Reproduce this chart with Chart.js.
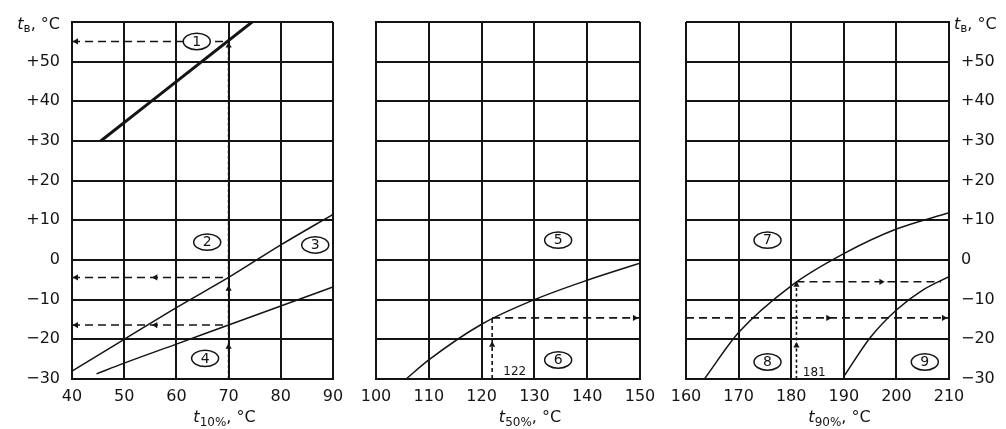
<!DOCTYPE html>
<html><head><meta charset="utf-8">
<script src="https://cdn.jsdelivr.net/npm/chart.js@4.4.1/dist/chart.umd.min.js"></script>
<style>
html,body{margin:0;padding:0;background:#fff;}
#wrap{position:relative;width:1006px;height:429px;overflow:hidden;background:#fff;}
canvas{position:absolute;top:0;}
</style></head><body>
<div id="wrap">
<canvas id="c1" width="345" height="429" style="left:0px"></canvas>
<canvas id="c2" width="320" height="429" style="left:345px"></canvas>
<canvas id="c3" width="341" height="429" style="left:665px"></canvas>
</div>
<script>
// ---------- data ----------
const tbTicks  = [-30,-20,-10,0,10,20,30,40,50,60];
const t10Ticks = [40,50,60,70,80,90];
const t50Ticks = [100,110,120,130,140,150];
const t90Ticks = [160,170,180,190,200,210];

// panel 1 (t10%)
const c1X = [45.5,74.5],                 c1Y = [30,60];
const c3X = [40,50,60,70,80,90],         c3Y = [-28,-20,-12,-4.4,3.8,11.5];
const c4X = [44.7,50,60,70,80,90],       c4Y = [-28.7,-26,-21.2,-16.4,-11.6,-6.8];
const g1aX = [40,70], g1aY = [55.1,55.1];
const g1bX = [40,70], g1bY = [-4.4,-4.4];
const g1cX = [40,70], g1cY = [-16.4,-16.4];
const g1vX = [70,70], g1vY = [-30,55.1];
const a1LeftX = [40.8,40.8,56,40.8,56], a1LeftY = [55.1,-4.4,-4.4,-16.4,-16.4];
const a1UpX = [70,70,70], a1UpY = [54,-7.3,-21.9];
const lab1Text = ['1','2','3','4'], lab1X = [63.9,65.9,86.6,65.5], lab1Y = [55.1,4.5,3.8,-24.8];

// panel 2 (t50%)
const c5X = [105.7,110,120,130,140,150], c5Y = [-30,-25.2,-16.2,-10,-5.1,-0.8];
const g2hX = [122,150], g2hY = [-14.6,-14.6];
const g2vX = [122,122], g2vY = [-30,-14.6];
const a2RightX = [149], a2RightY = [-14.6];
const a2UpX = [122], a2UpY = [-21.4];
const lab2Text = ['5','6'], lab2X = [134.5,134.5], lab2Y = [5,-25.2];
const note2Text = ['122'], note2X = [124.1], note2Y = [-28.2];

// panel 3 (t90%)
const c7X = [163.5,170,180,190,200,210], c7Y = [-30,-18.3,-6.5,1.6,7.8,11.9];
const c9X = [190.2,195,200,205,210],     c9Y = [-29,-19.6,-12.6,-7.6,-4.2];
const g3aX = [181,208.5], g3aY = [-5.5,-5.5];
const g3bX = [160,210],   g3bY = [-14.6,-14.6];
const g3vX = [181,181],   g3vY = [-30,-5.5];
const a3RightX = [197.1,187,209], a3RightY = [-5.5,-14.6,-14.6];
const a3UpX = [181,181], a3UpY = [-6.3,-21.6];
const lab3Text = ['7','8','9'], lab3X = [175.5,175.5,205.4], lab3Y = [5,-25.7,-25.7];
const note3Text = ['181'], note3X = [182.2], note3Y = [-28.4];

// ---------- styling helpers ----------
const FONT = "'DejaVu Sans', 'Liberation Sans', sans-serif";
const INK = '#141414';

function pts(xs, ys){ return xs.map((x,i)=>({x:x, y:ys[i]})); }
function curve(xs, ys, w){
  return {data:pts(xs,ys), showLine:true, borderColor:INK, borderWidth:w, pointRadius:0,
          cubicInterpolationMode:'monotone', fill:false};
}
function guide(xs, ys, dash){
  return {data:pts(xs,ys), showLine:true, borderColor:INK, borderWidth:1.6, borderDash:dash,
          pointRadius:0, tension:0, fill:false};
}
function arrows(xs, ys, rot){
  return {data:pts(xs,ys), showLine:false, pointStyle:'triangle', pointRadius:3.6,
          pointRotation:rot, pointBackgroundColor:INK, pointBorderColor:INK, pointBorderWidth:0};
}
function yLabel(v){
  if (v === 60) return '';
  if (v > 0) return '+' + v;
  if (v < 0) return '\u2212' + Math.abs(v);
  return '0';
}

function drawRich(ctx, parts, x, y, align){
  let total = 0;
  const widths = parts.map(p => { ctx.font = (p[2]?'italic ':'') + p[1] + 'px ' + FONT; const w = ctx.measureText(p[0]).width; total += w; return w; });
  let cx = align === 'center' ? x - total/2 : (align === 'right' ? x - total : x);
  ctx.textBaseline = 'middle'; ctx.textAlign = 'left'; ctx.fillStyle = INK;
  parts.forEach((p,i) => { ctx.font = (p[2]?'italic ':'') + p[1] + 'px ' + FONT; ctx.fillText(p[0], cx, y + (p[3]||0)); cx += widths[i]; });
}

function annotPlugin(cfg){
  return {
    id: 'annot',
    afterDatasetsDraw(chart){
      const ctx = chart.ctx, xs = chart.scales.x, ys = chart.scales.y;
      ctx.save();
      cfg.labText.forEach((t,i) => {
        const px = xs.getPixelForValue(cfg.labX[i]), py = ys.getPixelForValue(cfg.labY[i]);
        ctx.beginPath(); ctx.ellipse(px, py, 13.5, 8.2, 0, 0, Math.PI*2);
        ctx.fillStyle = '#fff'; ctx.fill();
        ctx.lineWidth = 1.5; ctx.strokeStyle = INK; ctx.stroke();
        ctx.fillStyle = INK; ctx.font = '14px ' + FONT; ctx.textAlign = 'center'; ctx.textBaseline = 'middle';
        ctx.fillText(t, px, py + 0.5);
      });
      (cfg.noteText||[]).forEach((t,i) => {
        const px = xs.getPixelForValue(cfg.noteX[i]), py = ys.getPixelForValue(cfg.noteY[i]);
        ctx.fillStyle = INK; ctx.font = '12px ' + FONT; ctx.textAlign = 'left'; ctx.textBaseline = 'middle';
        ctx.fillText(t, px, py);
      });
      ctx.restore();
    },
    afterDraw(chart){
      const ctx = chart.ctx, ca = chart.chartArea;
      ctx.save();
      drawRich(ctx, [['t',16,true,0],[cfg.sub,12,false,5],[', \u00B0C',16,false,0]], (ca.left+ca.right)/2 + 22, chart.height - 11, 'center');
      if (cfg.corner === 'left') drawRich(ctx, [['t',16,true,0],['\u0432',12,false,4],[', \u00B0C',16,false,0]], ca.left - 12, ca.top + 3, 'right');
      if (cfg.corner === 'right') drawRich(ctx, [['t',16,true,0],['\u0432',12,false,4],[', \u00B0C',16,false,0]], ca.right + 5, ca.top + 3, 'left');
      ctx.restore();
    }
  };
}

function makeChart(id, xTicks, ySide, yWidth, showY, padding, datasets, cfg){
  return new Chart(document.getElementById(id), {
    type: 'scatter',
    data: { datasets: datasets },
    options: {
      responsive: false, animation: false, events: [],
      layout: { padding: padding },
      plugins: { legend:{display:false}, tooltip:{enabled:false} },
      scales: {
        x: {
          type:'linear', min:xTicks[0], max:xTicks[xTicks.length-1],
          afterBuildTicks: s => { s.ticks = xTicks.map(v => ({value:v})); },
          ticks: { padding:8, color:INK, font:{family:FONT, size:16}, maxRotation:0, autoSkip:false, callback: v => String(v) },
          grid: { color:INK, lineWidth:2, drawTicks:false },
          border: { color:INK, width:2 },
          afterFit: s => { s.height = 50; s.paddingLeft = 0; s.paddingRight = 0; }
        },
        y: {
          type:'linear', position:ySide, min:-30, max:60,
          afterBuildTicks: s => { s.ticks = tbTicks.map(v => ({value:v})); },
          ticks: { display:showY, padding:12, color:INK, font:{family:FONT, size:16}, autoSkip:false, callback: yLabel },
          grid: { color:INK, lineWidth:2, drawTicks:false },
          border: { color:INK, width:2 },
          afterFit: s => { s.width = yWidth; s.paddingTop = 0; s.paddingBottom = 0; }
        }
      }
    },
    plugins: [annotPlugin(cfg)]
  });
}

makeChart('c1', t10Ticks, 'left', 72, true, {top:22, right:12, left:0, bottom:0}, [
  curve(c1X, c1Y, 3),
  curve(c3X, c3Y, 1.5),
  curve(c4X, c4Y, 1.5),
  guide(g1aX, g1aY, [8,5]),
  guide(g1bX, g1bY, [8,5]),
  guide(g1cX, g1cY, [8,5]),
  guide(g1vX, g1vY, [3,2.5]),
  arrows(a1LeftX, a1LeftY, -90),
  arrows(a1UpX, a1UpY, 0)
], {labText:lab1Text, labX:lab1X, labY:lab1Y, sub:'10%', corner:'left'});

makeChart('c2', t50Ticks, 'left', 31, false, {top:22, right:25, left:0, bottom:0}, [
  curve(c5X, c5Y, 1.5),
  guide(g2hX, g2hY, [8,5]),
  guide(g2vX, g2vY, [4,3]),
  arrows(a2RightX, a2RightY, 90),
  arrows(a2UpX, a2UpY, 0)
], {labText:lab2Text, labX:lab2X, labY:lab2Y, noteText:note2Text, noteX:note2X, noteY:note2Y, sub:'50%'});

makeChart('c3', t90Ticks, 'right', 57, true, {top:22, right:0, left:21, bottom:0}, [
  curve(c7X, c7Y, 1.5),
  curve(c9X, c9Y, 1.5),
  guide(g3aX, g3aY, [8,5]),
  guide(g3bX, g3bY, [8,5]),
  guide(g3vX, g3vY, [3,2.5]),
  arrows(a3RightX, a3RightY, 90),
  arrows(a3UpX, a3UpY, 0)
], {labText:lab3Text, labX:lab3X, labY:lab3Y, noteText:note3Text, noteX:note3X, noteY:note3Y, sub:'90%', corner:'right'});
</script>
</body></html>
